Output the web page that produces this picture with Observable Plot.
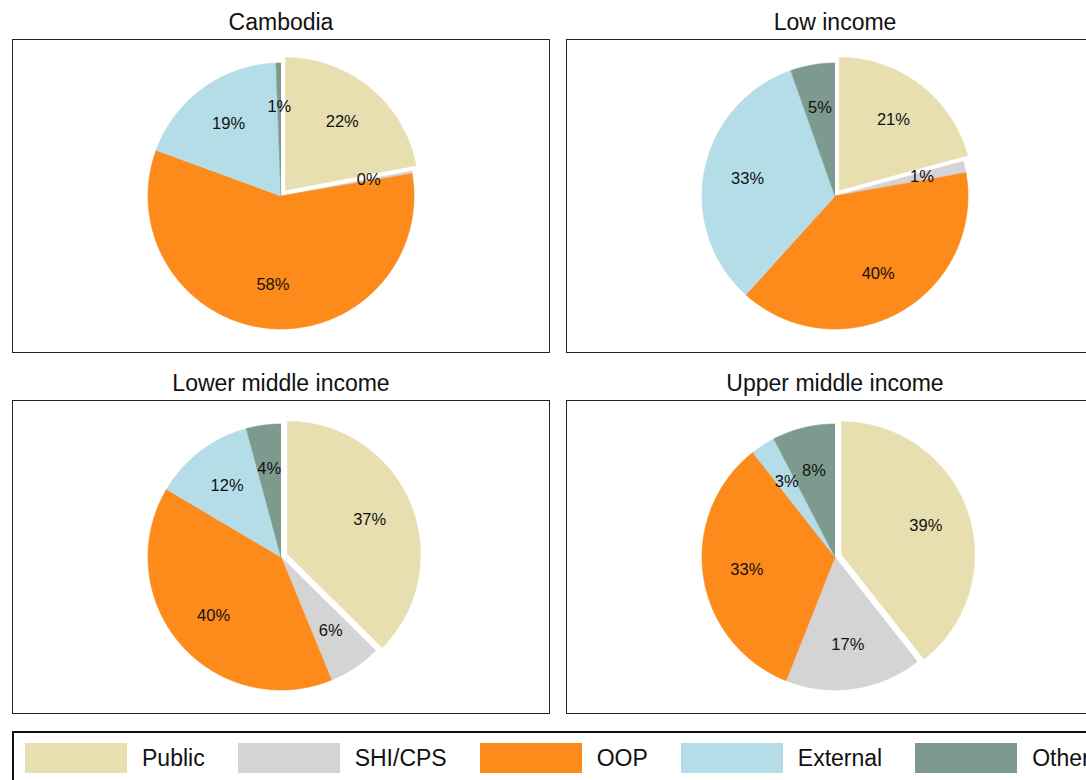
<!DOCTYPE html>
<html>
<head>
<meta charset="utf-8">
<script src="https://cdn.jsdelivr.net/npm/d3@7"></script>
<script src="https://cdn.jsdelivr.net/npm/@observablehq/plot@0.6"></script>
<style>
html, body { margin: 0; padding: 0; overflow: hidden; background: #fff; }
#wrap { width: 1086px; height: 780px; overflow: hidden; position: relative; font-family: "Liberation Sans", Arial, sans-serif; }
#chart { position: absolute; left: 0; top: 0; }
.legend { position: absolute; left: 12px; top: 731px; width: 1130px; height: 70px; border: 2px solid #111; box-sizing: border-box; display: flex; align-items: flex-start; padding: 10px 0 0 11px; font-size: 23px; color: #111; }
.legend .item { display: flex; align-items: center; height: 30px; margin-right: 33px; }
.legend .sw { width: 102px; height: 30px; margin-right: 15px; }
</style>
</head>
<body>
<div id="wrap">
  <div id="chart"></div>
  <div class="legend" id="legend"></div>
</div>
<script>
// ---- data ----
const panels = ["Cambodia", "Low income", "Lower middle income", "Upper middle income"];
const categories = ["Public", "SHI/CPS", "OOP", "External", "Other"];
const colors = ["#E8DFB0", "#D4D4D4", "#FD8B1B", "#B5DDE8", "#7D9A8F"];
const cambodia = [22.0, 0.3, 58.3, 18.8, 0.6];
const lowIncome = [20.8, 1.4, 39.5, 32.9, 5.4];
const lowerMiddle = [37.4, 6.4, 39.7, 12.3, 4.2];
const upperMiddle = [39.4, 16.6, 33.4, 3.0, 7.6];
const seriesValues = [cambodia, lowIncome, lowerMiddle, upperMiddle];
const exploded = "Public";

// ---- geometry (built from the data) ----
const R = 133, EXPLODE = 7, LABEL_R = 0.67 * R;
const pie = d3.pie().sort(null).value(d => d);
const slicePts = [], labels = [], titles = [];
panels.forEach((name, p) => {
  const col = p % 2, row = Math.floor(p / 2);
  titles.push({name, col, row});
  const arcs = pie(seriesValues[p]);
  arcs.forEach((a, i) => {
    const cat = categories[i];
    const mid = (a.startAngle + a.endAngle) / 2;
    const off = cat === exploded ? EXPLODE : 0;
    const ox = off * Math.sin(mid), oy = off * Math.cos(mid);
    const key = p + "-" + cat;
    slicePts.push({col, row, cat, key, x: ox, y: oy});
    const n = Math.max(2, Math.ceil((a.endAngle - a.startAngle) / (Math.PI / 360)));
    for (let k = 0; k <= n; k++) {
      const t = a.startAngle + (a.endAngle - a.startAngle) * k / n;
      slicePts.push({col, row, cat, key, x: ox + R * Math.sin(t), y: oy + R * Math.cos(t)});
    }
    labels.push({col, row, cat, value: a.data, x: ox + LABEL_R * Math.sin(mid), y: oy + LABEL_R * Math.cos(mid)});
  });
});

const chart = Plot.plot({
  width: 1104,
  height: 714,
  marginLeft: 12,
  marginRight: 1,
  marginTop: 39,
  marginBottom: 1,
  style: {fontFamily: '"Liberation Sans", Arial, sans-serif', maxWidth: "none", background: "white", overflow: "visible"},
  x: {domain: [-268.5, 268.5], axis: null},
  y: {domain: [-156.5, 156.5], axis: null},
  fx: {domain: [0, 1], axis: null, paddingInner: 17 / 554, paddingOuter: 0, round: false},
  fy: {domain: [0, 1], axis: null, paddingInner: 48 / 361, paddingOuter: 0, round: false},
  color: {domain: categories, range: colors},
  marks: [
    Plot.line(slicePts, {fx: "col", fy: "row", x: "x", y: "y", z: "key", fill: "cat", stroke: "cat", strokeWidth: 0.6, curve: "linear"}),
    Plot.text(labels, {fx: "col", fy: "row", x: "x", y: "y", text: d => Math.round(d.value) + "%", fontSize: 16.5, fill: "#111"}),
    Plot.frame({stroke: "#222", strokeWidth: 1}),
    Plot.text(titles, {fx: "col", fy: "row", frameAnchor: "top", text: "name", lineAnchor: "bottom", dy: -10, fontSize: 23, fill: "#111"})
  ]
});
document.getElementById("chart").appendChild(chart);

// ---- legend ----
const lg = document.getElementById("legend");
categories.forEach((c, i) => {
  const item = document.createElement("div");
  item.className = "item";
  const sw = document.createElement("div");
  sw.className = "sw";
  sw.style.background = colors[i];
  const lab = document.createElement("span");
  lab.textContent = c;
  item.appendChild(sw);
  item.appendChild(lab);
  lg.appendChild(item);
});
</script>
</body>
</html>
